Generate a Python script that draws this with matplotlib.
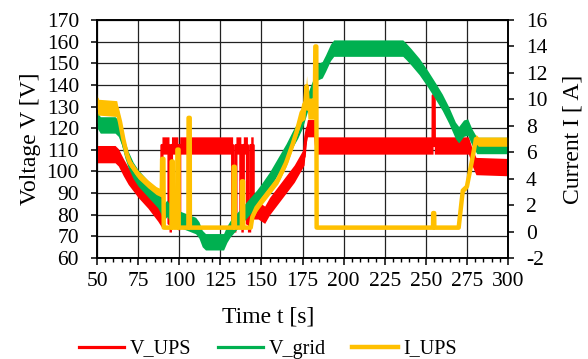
import matplotlib
matplotlib.use("Agg")
import matplotlib.pyplot as plt
from matplotlib.ticker import MultipleLocator
import numpy as np

plt.rcParams['font.family'] = ['Liberation Serif', 'DejaVu Serif']
plt.rcParams['axes.unicode_minus'] = False

# ---------------- data ----------------
t_ups = [50, 61, 63, 66, 69, 75, 81, 87, 89.5, 89.5, 93.8, 93.8, 95.3, 95.3,
         99.2, 99.2, 100.3, 100.3, 132.5, 132.5, 134.5, 134.5, 137.5, 137.5,
         139.0, 139.0, 141.5, 141.5, 143.5, 143.5, 145.0, 145.0, 148, 152, 155,
         160, 165, 170, 173, 176, 177, 178, 182.5, 183.5, 254.4, 254.5, 255.1,
         255.2, 270, 276, 278, 280.5, 300]
v_ups = [108, 108, 106.5, 102, 98, 92, 87, 81, 78, 112, 112, 76, 76, 112,
         112, 77, 77, 112, 112, 76, 76, 112, 112, 76,
         76, 112, 112, 76, 76, 112, 112, 82, 82, 80, 84,
         89, 94, 99, 103, 107, 116, 120, 120, 112, 112, 135, 135,
         112, 112, 112, 107, 102.5, 102]

t_grid = [50, 52, 61, 63, 65, 67, 69, 72, 75, 81, 87, 89, 90.5, 92.5, 95, 100,
          105, 110, 112, 114, 116, 127, 129, 131, 135, 139, 143, 147, 150, 155,
          160, 165, 169, 172, 175, 177, 179, 181, 183, 184, 187, 189, 192, 194,
          236, 238, 241, 246, 251, 256, 260, 264, 268, 270, 273, 275.5, 278,
          281, 300]
v_grid = [124, 121.5, 121.5, 120, 116, 110, 105.5, 100.5, 97, 92, 87, 84, 81,
          83, 80, 78, 76.5, 75, 73, 69, 67.5, 67.5, 71, 73.5, 77, 80.5, 84,
          87.5, 90.5, 96, 102.5, 109, 115, 119, 124, 129, 134, 138, 141, 146,
          147, 150, 155, 157, 157, 155.5, 153, 148.5, 143, 137, 132, 126, 119,
          117, 120, 120.5, 116, 112, 112]

t_iups = [50, 50.6, 51.5, 62, 64, 66, 68, 70, 75, 81, 86, 89.4, 89.6, 90.4,
          90.6, 95.3, 95.4, 96.1, 96.2, 98.8, 98.9, 99.6, 99.7, 105.6, 105.7,
          106.4, 106.5, 133.0, 133.1, 133.8, 133.9, 138.1, 138.2, 138.9, 139.0,
          143.5, 144.5, 147, 150, 155, 160, 165, 169, 172, 174.5, 176.5, 177.5,
          178.3, 182.5, 182.8, 183.4, 183.6, 254.4, 254.5, 255.1, 255.2, 270,
          272.5, 275, 278, 280.5, 282, 300]
i_ups = [9.9, 9.4, 9.4, 9.3, 8.3, 7.0, 5.9, 5.2, 4.3, 3.6, 3.1, 2.9, 5.5, 5.5,
         0.3, 0.3, 5.3, 5.3, 0.3, 0.3, 6.2, 6.2, 0.3, 0.3, 8.6,
         8.6, 0.3, 0.3, 4.9, 4.9, 0.3, 0.3, 3.8, 3.8, 0.3,
         0.3, 1.1, 1.8, 2.3, 3.1, 3.9, 5.2, 6.6, 7.8, 9.0, 9.3, 11.0,
         9.3, 9.3, 14.0, 14.0, 0.3, 0.3, 1.4, 1.4, 0.3, 0.3,
         3.1, 3.4, 5.3, 7.0, 6.8, 6.8]
# half-width of the noisy band of I_UPS at each point [A]
i_ups_spread = [0.6, 0.6, 0.6, 0.6, 0.35, 0.35, 0.35, 0.3, 0.3, 0.3, 0.3, 0.3, 0.1, 0.1,
                0.1, 0.1, 0.1, 0.1, 0.1, 0.1, 0.1, 0.1, 0.1, 0.1, 0.1,
                0.1, 0.1, 0.1, 0.1, 0.1, 0.1, 0.1, 0.1, 0.1, 0.1,
                0.1, 0.2, 0.3, 0.3, 0.3, 0.3, 0.3, 0.3, 0.4, 0.7, 0.8, 0.8,
                0.8, 0.8, 0.1, 0.1, 0.1, 0.1, 0.1, 0.1, 0.1, 0.1,
                0.2, 0.2, 0.2, 0.35, 0.35, 0.35]

x_ticks = [50, 75, 100, 125, 150, 175, 200, 225, 250, 275, 300]
v_ticks = [60, 70, 80, 90, 100, 110, 120, 130, 140, 150, 160, 170]
i_ticks = [-2, 0, 2, 4, 6, 8, 10, 12, 14, 16]

# ---------------- style ----------------
RED, GREEN, YELLOW = '#FF0000', '#00B050', '#FFC000'
RED_BAND = 4.0     # visual half-width of the noisy voltage traces [V]
GREEN_BAND = 3.8
FS_TICK = 15.5
FS_LEG = 14.5

fig = plt.figure(figsize=(5.88, 3.59), dpi=100)
ax = fig.add_axes([97/588, 1-258/359, 411/588, 238/359])
ax2 = ax.twinx()

tu, vu = np.array(t_ups), np.array(v_ups)
tg, vg = np.array(t_grid), np.array(v_grid)
ti, ii, si = np.array(t_iups), np.array(i_ups), np.array(i_ups_spread)

ax.fill_between(tu, vu - RED_BAND, vu + RED_BAND, color=RED, lw=0, zorder=2)
l1, = ax.plot(tu, vu, color=RED, lw=2.3, label='V_UPS', zorder=2)
ax.fill_between(tg, vg - GREEN_BAND, vg + GREEN_BAND, color=GREEN, lw=0, zorder=3)
l2, = ax.plot(tg, vg, color=GREEN, lw=2.3, label='V_grid', zorder=3)
ax2.fill_between(ti, ii - si, ii + si, color=YELLOW, lw=0, zorder=2)
l3, = ax2.plot(ti, ii, color=YELLOW, lw=3.2, label='I_UPS', zorder=2)

ax.set_xlim(50, 300)
ax.set_ylim(60, 170)
ax2.set_ylim(-2, 16)
ax.set_xticks(x_ticks)
ax.set_yticks(v_ticks)
ax2.set_yticks(i_ticks)
ax.xaxis.set_minor_locator(MultipleLocator(5))

ax.grid(True, which='major', color='#222222', lw=0.9, zorder=0)
ax.set_axisbelow(True)

for a in (ax, ax2):
    for s in a.spines.values():
        s.set_color('black')
        s.set_linewidth(1.2)
ax.tick_params(axis='x', which='major', direction='out', length=5, width=1.1,
               labelsize=FS_TICK, pad=5, colors='black')
ax.tick_params(axis='x', which='minor', direction='out', length=3, width=1.0)
ax.tick_params(axis='y', which='major', direction='out', length=4, width=1.1,
               labelsize=FS_TICK, pad=9)
ax2.tick_params(axis='y', which='major', direction='out', length=4, width=1.1,
                labelsize=FS_TICK, pad=9)

ax.set_xlabel('Time t [s]', fontsize=17)
ax.xaxis.set_label_coords((268-97)/411, (258-307)/238)
ax.set_ylabel('Voltage V [V]', fontsize=17, labelpad=4)
ax2.set_ylabel('Current I [ A]', fontsize=17, labelpad=11)

fig.legend([l1, l2, l3], ['V_UPS', 'V_grid', 'I_UPS'], loc='center',
           bbox_to_anchor=(268/588, 1-349/359), ncol=3, frameon=False,
           fontsize=FS_LEG, handlelength=2.25, handletextpad=0.3,
           columnspacing=1.3, borderaxespad=0, borderpad=0)

fig.savefig('out.png', dpi=100)
